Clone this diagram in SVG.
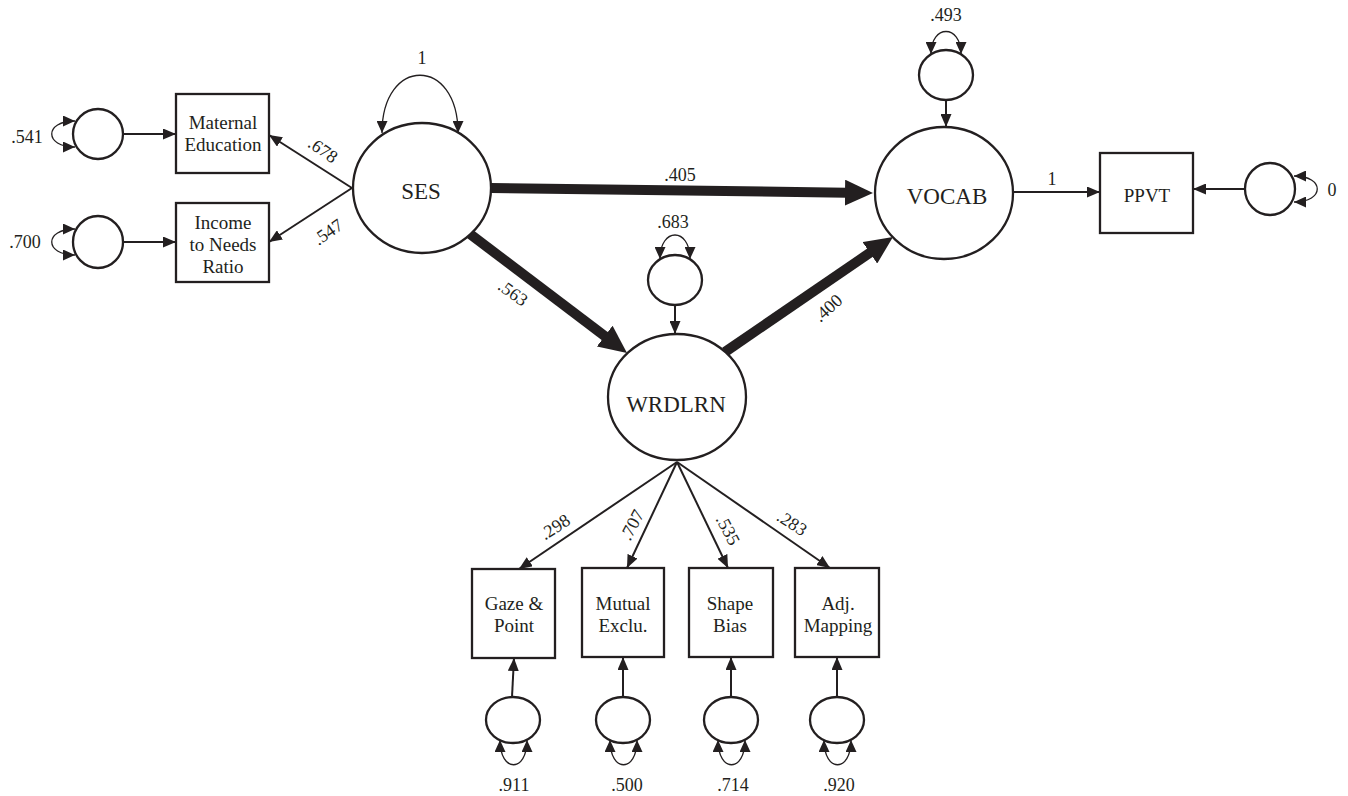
<svg xmlns="http://www.w3.org/2000/svg" width="1348" height="796" viewBox="0 0 1348 796">
<style>
text{font-family:"Liberation Serif","Times New Roman",serif;fill:#231f20}
.lab{font-size:18px;text-anchor:middle}
.box{font-size:19px;text-anchor:middle}
.lat{font-size:23px;text-anchor:middle}
.node rect,.node ellipse{fill:#fff;stroke:#231f20;stroke-width:2.3}
.edge{stroke:#231f20;fill:none;stroke-width:2;marker-end:url(#ah)}
.thick{stroke:#231f20;fill:none;stroke-width:10;marker-end:url(#bh)}
.loop{stroke:#231f20;fill:none;stroke-width:1.3;marker-start:url(#sh);marker-end:url(#sh)}
</style>
<defs>
<marker id="ah" markerUnits="userSpaceOnUse" markerWidth="13" markerHeight="11" refX="13" refY="5.5" orient="auto"><path d="M0,0 L13,5.5 L0,11 z" fill="#231f20"/></marker>
<marker id="sh" markerUnits="userSpaceOnUse" markerWidth="12" markerHeight="11" refX="12" refY="5.5" orient="auto-start-reverse"><path d="M0,0 L12,5.5 L0,11 z" fill="#231f20"/></marker>
<marker id="bh" markerUnits="userSpaceOnUse" markerWidth="30" markerHeight="26" refX="2" refY="13" orient="auto"><path d="M0,0 L28,13 L0,26 z" fill="#231f20"/></marker>
</defs>
<rect width="1348" height="796" fill="#fff"/>
<g id="connectors">
<line class="thick" x1="491" y1="188" x2="847" y2="192.7"/>
<line class="thick" x1="470" y1="234" x2="606.3" y2="337.3"/>
<line class="thick" x1="725" y1="352" x2="871.5" y2="251.7"/>
<line class="edge" x1="352" y1="188" x2="269" y2="135"/>
<line class="edge" x1="352" y1="188" x2="269" y2="242"/>
<line class="edge" x1="123" y1="134" x2="176" y2="134"/>
<line class="edge" x1="123" y1="242" x2="176" y2="242"/>
<line class="edge" x1="1013" y1="192" x2="1100" y2="192"/>
<line class="edge" x1="1245" y1="189" x2="1193" y2="189"/>
<line class="edge" x1="946" y1="100" x2="946" y2="127"/>
<line class="edge" x1="675" y1="305" x2="675" y2="334"/>
<line class="edge" x1="677" y1="462" x2="519" y2="569"/>
<line class="edge" x1="677" y1="462" x2="627" y2="568"/>
<line class="edge" x1="677" y1="462" x2="728" y2="568"/>
<line class="edge" x1="677" y1="462" x2="830" y2="568"/>
<line class="edge" x1="512" y1="697" x2="514" y2="658"/>
<line class="edge" x1="623" y1="697" x2="623" y2="657"/>
<line class="edge" x1="731" y1="697" x2="731" y2="657"/>
<line class="edge" x1="837" y1="697" x2="837" y2="657"/>
<path class="loop" d="M382,133 C382,56 458,56 458,133"/>
<path class="loop" d="M931,54 C931,24 961,24 961,54"/>
<path class="loop" d="M660,259 C660,227 690,227 690,259"/>
<path class="loop" d="M75,121 C44,121 44,147 75,147"/>
<path class="loop" d="M75,229 C44,229 44,255 75,255"/>
<path class="loop" d="M1294,176 C1325,176 1325,202 1294,202"/>
<path class="loop" d="M500,740 C500,773 527,773 527,740"/>
<path class="loop" d="M610,740 C610,773 637,773 637,740"/>
<path class="loop" d="M718,740 C718,773 745,773 745,740"/>
<path class="loop" d="M824,740 C824,773 851,773 851,740"/>
<text class="lab" x="422" y="64">1</text>
<text class="lab" x="680" y="181">.405</text>
<text class="lab" x="1052" y="185">1</text>
<text class="lab" x="1332" y="196">0</text>
<text class="lab" x="673" y="228">.683</text>
<text class="lab" x="946" y="21">.493</text>
<text class="lab" x="27" y="143">.541</text>
<text class="lab" x="25" y="248">.700</text>
<text class="lab" x="514" y="791">.911</text>
<text class="lab" x="627" y="791">.500</text>
<text class="lab" x="733" y="791">.714</text>
<text class="lab" x="839" y="791">.920</text>
<text class="lab" transform="translate(323,150) rotate(35)" y="6">.678</text>
<text class="lab" transform="translate(328,232) rotate(-35)" y="6">.547</text>
<text class="lab" transform="translate(513,293) rotate(36)" y="6">.563</text>
<text class="lab" transform="translate(828,308) rotate(-42)" y="6">.400</text>
<text class="lab" transform="translate(555,527) rotate(-33)" y="6">.298</text>
<text class="lab" transform="translate(632,525) rotate(-62)" y="6">.707</text>
<text class="lab" transform="translate(728,530) rotate(62)" y="6">.535</text>
<text class="lab" transform="translate(792,523) rotate(33)" y="6">.283</text>
</g>
<g id="SES" class="node"><ellipse cx="422" cy="188" rx="69" ry="65"/><text class="lat" x="421" y="199">SES</text></g>
<g id="VOCAB" class="node"><ellipse cx="944" cy="193" rx="69" ry="66"/><text class="lat" x="947" y="204">VOCAB</text></g>
<g id="WRDLRN" class="node"><ellipse cx="677" cy="397" rx="69" ry="63"/><text class="lat" x="676" y="412">WRDLRN</text></g>
<g id="MatEd" class="node"><rect x="176" y="94" width="93" height="79"/><text class="box" x="223" y="129">Maternal</text><text class="box" x="223" y="151">Education</text></g>
<g id="Income" class="node"><rect x="176" y="203" width="93" height="79"/><text class="box" x="223" y="229">Income</text><text class="box" x="223" y="251">to Needs</text><text class="box" x="223" y="273">Ratio</text></g>
<g id="PPVT" class="node"><rect x="1100" y="153" width="93" height="80"/><text class="box" x="1147" y="202">PPVT</text></g>
<g id="Gaze" class="node"><rect x="472" y="569" width="83" height="89"/><text class="box" x="514" y="610">Gaze &amp;</text><text class="box" x="514" y="632">Point</text></g>
<g id="Mutual" class="node"><rect x="582" y="568" width="82" height="89"/><text class="box" x="623" y="610">Mutual</text><text class="box" x="623" y="632">Exclu.</text></g>
<g id="Shape" class="node"><rect x="689" y="568" width="84" height="89"/><text class="box" x="730" y="610">Shape</text><text class="box" x="730" y="632">Bias</text></g>
<g id="Adj" class="node"><rect x="795" y="568" width="84" height="89"/><text class="box" x="838" y="610">Adj.</text><text class="box" x="838" y="632">Mapping</text></g>
<g id="e_MatEd" class="node"><ellipse cx="98" cy="134" rx="25" ry="25"/></g>
<g id="e_Income" class="node"><ellipse cx="98" cy="242" rx="25" ry="26"/></g>
<g id="e_PPVT" class="node"><ellipse cx="1270" cy="189" rx="25" ry="26"/></g>
<g id="e_VOCAB" class="node"><ellipse cx="946" cy="75" rx="27" ry="25"/></g>
<g id="e_WRDLRN" class="node"><ellipse cx="675" cy="280" rx="27" ry="25"/></g>
<g id="e_Gaze" class="node"><ellipse cx="513" cy="720" rx="27" ry="23"/></g>
<g id="e_Mutual" class="node"><ellipse cx="623" cy="720" rx="27" ry="23"/></g>
<g id="e_Shape" class="node"><ellipse cx="731" cy="720" rx="27" ry="23"/></g>
<g id="e_Adj" class="node"><ellipse cx="837" cy="720" rx="27" ry="23"/></g>
</svg>
